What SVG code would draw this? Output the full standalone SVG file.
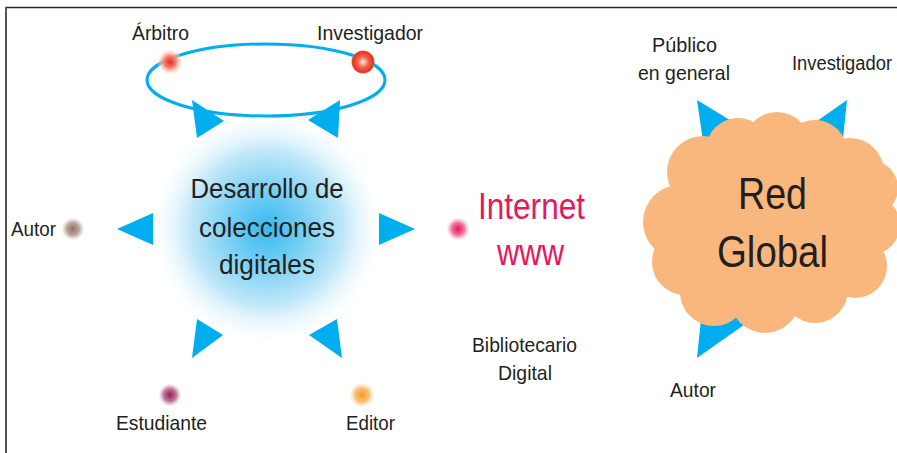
<svg xmlns="http://www.w3.org/2000/svg" width="897" height="453" viewBox="0 0 897 453">
<defs>
<style>
.lbl{font-family:"Liberation Sans",Arial,sans-serif;font-size:21px;fill:#231f20}
.big{font-family:"Liberation Sans",Arial,sans-serif;fill:#231f20}
.net{font-family:"Liberation Sans",Arial,sans-serif;font-size:37px;fill:#e5185d}
.arr{fill:#00aeef}
.cloud{fill:#f9b67d}
</style>
<radialGradient id="glow" cx="0.5" cy="0.5" r="0.5">
<stop offset="0" stop-color="#36b9ef"/>
<stop offset="0.3" stop-color="#74cef3"/>
<stop offset="0.65" stop-color="#c2e8f9"/>
<stop offset="1" stop-color="#ffffff" stop-opacity="0"/>
</radialGradient>
<radialGradient id="gArb" cx="0.5" cy="0.5" r="0.5">
<stop offset="0" stop-color="#e8262a"/>
<stop offset="0.5" stop-color="#f3836b"/>
<stop offset="1" stop-color="#fde3da" stop-opacity="0.3"/>
</radialGradient>
<radialGradient id="gInv" cx="0.5" cy="0.5" r="0.5">
<stop offset="0" stop-color="#fde8e0"/>
<stop offset="0.45" stop-color="#f2694e"/>
<stop offset="0.9" stop-color="#e3321f"/>
<stop offset="1" stop-color="#e67a66"/>
</radialGradient>
<radialGradient id="gAut" cx="0.5" cy="0.5" r="0.5">
<stop offset="0" stop-color="#8c7268"/>
<stop offset="0.6" stop-color="#bcaaa2"/>
<stop offset="1" stop-color="#eee8e5" stop-opacity="0.4"/>
</radialGradient>
<radialGradient id="gNet" cx="0.5" cy="0.5" r="0.5">
<stop offset="0" stop-color="#e2145a"/>
<stop offset="0.6" stop-color="#f07ba0"/>
<stop offset="1" stop-color="#fbdbe5" stop-opacity="0.4"/>
</radialGradient>
<radialGradient id="gEst" cx="0.5" cy="0.5" r="0.5">
<stop offset="0" stop-color="#8e1e55"/>
<stop offset="0.6" stop-color="#c47b9c"/>
<stop offset="1" stop-color="#f0dbe4" stop-opacity="0.4"/>
</radialGradient>
<radialGradient id="gEdi" cx="0.5" cy="0.5" r="0.5">
<stop offset="0" stop-color="#f59a1e"/>
<stop offset="0.6" stop-color="#f9c27c"/>
<stop offset="1" stop-color="#fdeedb" stop-opacity="0.4"/>
</radialGradient>
</defs>
<rect width="897" height="453" fill="#ffffff"/>
<g id="frame">
<line x1="5" y1="7.5" x2="897" y2="7.5" stroke="#2a2a2a" stroke-width="1.5"/>
<line x1="6" y1="7" x2="6" y2="453" stroke="#555" stroke-width="2"/>
</g>

<g id="desarrollo">
<circle cx="267" cy="228" r="120" fill="url(#glow)"/>
<text class="big" font-size="28" text-anchor="middle" x="267" y="198" textLength="153" lengthAdjust="spacingAndGlyphs">Desarrollo de</text>
<text class="big" font-size="28" text-anchor="middle" x="267" y="237" textLength="136" lengthAdjust="spacingAndGlyphs">colecciones</text>
<text class="big" font-size="28" text-anchor="middle" x="267" y="274" textLength="96" lengthAdjust="spacingAndGlyphs">digitales</text>
</g>

<g id="connectors">
<ellipse cx="266" cy="80" rx="119" ry="36" fill="none" stroke="#00aeef" stroke-width="3"/>
<polygon class="arr" points="192,100 197,138 224,121"/>
<polygon class="arr" points="340,100 338,138 308,120"/>
<polygon class="arr" points="117,229 153,213 153,245"/>
<polygon class="arr" points="379,213 379,245 415,229"/>
<polygon class="arr" points="197,319 192,358 223,335"/>
<polygon class="arr" points="337,319 342,358 309,335"/>
<polygon class="arr" points="697,100 704,148 738,125"/>
<polygon class="arr" points="847,100 810,126 842,148"/>
<polygon class="arr" points="697,358 703,300 748,322"/>
</g>

<g id="arbitro">
<circle cx="170" cy="62" r="12" fill="url(#gArb)"/>
<text class="lbl" x="132" y="40" textLength="57" lengthAdjust="spacingAndGlyphs">Árbitro</text>
</g>
<g id="investigador">
<circle cx="363" cy="62" r="11.5" fill="url(#gInv)"/>
<text class="lbl" x="317" y="40" textLength="106" lengthAdjust="spacingAndGlyphs">Investigador</text>
</g>
<g id="autor">
<circle cx="73" cy="229" r="11" fill="url(#gAut)"/>
<text class="lbl" x="11" y="236" textLength="45" lengthAdjust="spacingAndGlyphs">Autor</text>
</g>
<g id="internet">
<circle cx="458" cy="229" r="11" fill="url(#gNet)"/>
<text class="net" x="478" y="219" textLength="107" lengthAdjust="spacingAndGlyphs">Internet</text>
<text class="net" x="497" y="265" textLength="67" lengthAdjust="spacingAndGlyphs">www</text>
</g>
<g id="estudiante">
<circle cx="170" cy="395" r="11" fill="url(#gEst)"/>
<text class="lbl" x="116" y="430" textLength="91" lengthAdjust="spacingAndGlyphs">Estudiante</text>
</g>
<g id="editor">
<circle cx="362" cy="395" r="12" fill="url(#gEdi)"/>
<text class="lbl" x="346" y="430" textLength="49" lengthAdjust="spacingAndGlyphs">Editor</text>
</g>
<g id="bibliotecario">
<text class="lbl" x="472" y="352" textLength="105" lengthAdjust="spacingAndGlyphs">Bibliotecario</text>
<text class="lbl" x="498" y="380" textLength="54" lengthAdjust="spacingAndGlyphs">Digital</text>
</g>

<g id="red-global">
<g class="cloud">
<ellipse cx="772" cy="225" rx="100" ry="85"/>
<circle cx="738" cy="150" r="32"/>
<circle cx="777" cy="145" r="33"/>
<circle cx="815" cy="152" r="32"/>
<circle cx="850" cy="172" r="34"/>
<circle cx="703" cy="172" r="36"/>
<circle cx="680" cy="222" r="37"/>
<circle cx="685" cy="262" r="33"/>
<circle cx="714" cy="292" r="34"/>
<circle cx="765" cy="298" r="35"/>
<circle cx="815" cy="290" r="33"/>
<circle cx="855" cy="266" r="32"/>
<circle cx="870" cy="225" r="30"/>
<circle cx="870" cy="188" r="28"/>
</g>
<text class="big" font-size="44" x="738" y="209" textLength="69" lengthAdjust="spacingAndGlyphs">Red</text>
<text class="big" font-size="44" x="717" y="267" textLength="111" lengthAdjust="spacingAndGlyphs">Global</text>
</g>
<g id="publico">
<text class="lbl" x="652" y="52" textLength="65" lengthAdjust="spacingAndGlyphs">Público</text>
<text class="lbl" x="638" y="80" textLength="92" lengthAdjust="spacingAndGlyphs">en general</text>
</g>
<g id="investigador-red">
<text class="lbl" style="font-size:19.5px" x="792" y="70" textLength="100" lengthAdjust="spacingAndGlyphs">Investigador</text>
</g>
<g id="autor-red">
<text class="lbl" x="670" y="397" textLength="46" lengthAdjust="spacingAndGlyphs">Autor</text>
</g>
</svg>
